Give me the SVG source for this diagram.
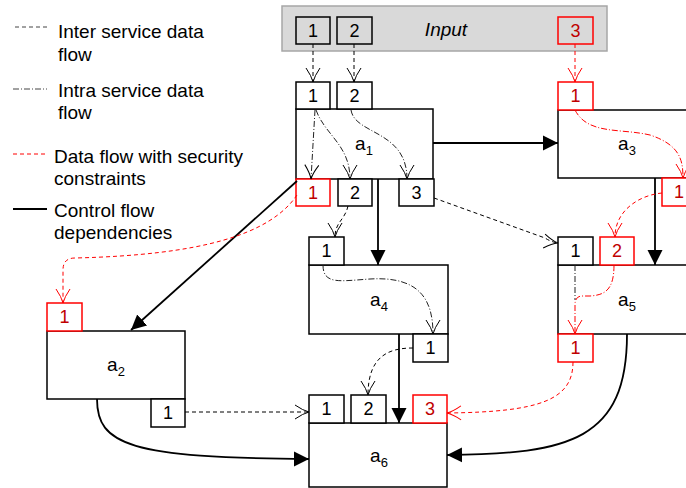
<svg xmlns="http://www.w3.org/2000/svg" width="686" height="488" viewBox="0 0 686 488">
<style>
text{font-family:"Liberation Sans",Arial,sans-serif;fill:#000}
.lg{font-size:19px}
.pt{font-size:18px;text-anchor:middle}
.lb{font-size:19px;text-anchor:middle}
.sub{font-size:13px}
.rt{fill:#c00000}
.box{fill:#fff;stroke:#000;stroke-width:1.5}
.rbox{fill:#fff;stroke:#ff0000;stroke-width:1.5}
.ctl{fill:none;stroke:#000;stroke-width:1.8}
.inter{fill:none;stroke:#000;stroke-width:1;stroke-dasharray:4 3}
.intra{fill:none;stroke:#222;stroke-width:1;stroke-dasharray:6 2 1 2}
.rinter{fill:none;stroke:#ff0000;stroke-width:1;stroke-dasharray:4 3}
.rintra{fill:none;stroke:#ff0000;stroke-width:1;stroke-dasharray:6 2 1 2}
</style>
<defs>
<marker id="ov" markerUnits="userSpaceOnUse" markerWidth="16" markerHeight="18" refX="15" refY="9" orient="auto"><path d="M1,2 Q9,7.5 15,9 Q9,10.5 1,16" fill="none" stroke="#000" stroke-width="1"/></marker>
<marker id="ovr" markerUnits="userSpaceOnUse" markerWidth="16" markerHeight="18" refX="15" refY="9" orient="auto"><path d="M1,2 Q9,7.5 15,9 Q9,10.5 1,16" fill="none" stroke="#ff0000" stroke-width="1"/></marker>
<marker id="tri" markerUnits="userSpaceOnUse" markerWidth="16" markerHeight="16" refX="15" refY="8" orient="auto"><path d="M0,0.5 L15,8 L0,15.5 Z" fill="#000"/></marker>
</defs>

<g id="legend">
<line x1="15" y1="27" x2="47" y2="27" stroke="#444" stroke-width="1" stroke-dasharray="4 3"/>
<text class="lg" x="58" y="38">Inter service data</text>
<text class="lg" x="58" y="61">flow</text>
<line x1="13" y1="89" x2="47" y2="89" stroke="#444" stroke-width="1" stroke-dasharray="6 2 1 2"/>
<text class="lg" x="58" y="97">Intra service data</text>
<text class="lg" x="58" y="119">flow</text>
<line x1="13" y1="154" x2="45" y2="154" stroke="#ff0000" stroke-width="1" stroke-dasharray="4 3"/>
<text class="lg" x="54" y="163">Data flow with security</text>
<text class="lg" x="54" y="185">constraints</text>
<line x1="13" y1="209" x2="47" y2="209" stroke="#000" stroke-width="2"/>
<text class="lg" x="54" y="217">Control flow</text>
<text class="lg" x="54" y="239">dependencies</text>
</g>

<g id="input">
<rect x="282" y="6" width="325" height="45" fill="#d9d9d9" stroke="#a6a6a6" stroke-width="1.5"/>
<rect x="296" y="17" width="34" height="27" fill="#d9d9d9" stroke="#000" stroke-width="1.5"/>
<text class="pt" x="313" y="37">1</text>
<rect x="337" y="17" width="35" height="27" fill="#d9d9d9" stroke="#000" stroke-width="1.5"/>
<text class="pt" x="354.5" y="37">2</text>
<rect x="558" y="17" width="35" height="27" fill="#d9d9d9" stroke="#ff0000" stroke-width="1.5"/>
<text class="pt rt" x="575.5" y="37">3</text>
<text x="446" y="36" font-size="19" font-style="italic" text-anchor="middle">Input</text>
</g>

<g id="a1">
<rect class="box" x="296" y="109" width="137" height="70"/>
<text class="lb" x="364" y="150">a<tspan class="sub" dy="5">1</tspan></text>
<rect class="box" x="296" y="82" width="34" height="27"/><text class="pt" x="313" y="102">1</text>
<rect class="box" x="337" y="82" width="35" height="27"/><text class="pt" x="354.5" y="102">2</text>
<rect class="rbox" x="296" y="179" width="34" height="27"/><text class="pt rt" x="313" y="199">1</text>
<rect class="box" x="338" y="179" width="34" height="27"/><text class="pt" x="355" y="199">2</text>
<rect class="box" x="399" y="179" width="35" height="27"/><text class="pt" x="416.5" y="199">3</text>
</g>

<g id="a3">
<rect class="box" x="558" y="110" width="140" height="68"/>
<text class="lb" x="627" y="150">a<tspan class="sub" dy="5">3</tspan></text>
<rect class="rbox" x="558" y="82" width="35" height="28"/><text class="pt rt" x="575.5" y="102">1</text>
<rect class="rbox" x="662" y="178" width="34" height="28"/><text class="pt rt" x="679" y="198">1</text>
</g>

<g id="a4">
<rect class="box" x="309" y="265" width="139" height="69"/>
<text class="lb" x="379" y="306">a<tspan class="sub" dy="5">4</tspan></text>
<rect class="box" x="309" y="237" width="35" height="28"/><text class="pt" x="326.5" y="257">1</text>
<rect class="box" x="413" y="334" width="35" height="28"/><text class="pt" x="430.5" y="354">1</text>
</g>

<g id="a5">
<rect class="box" x="558" y="265" width="140" height="69"/>
<text class="lb" x="627" y="306">a<tspan class="sub" dy="5">5</tspan></text>
<rect class="box" x="558" y="237" width="35" height="28"/><text class="pt" x="575.5" y="257">1</text>
<rect class="rbox" x="600" y="237" width="34" height="28"/><text class="pt rt" x="617" y="257">2</text>
<rect class="rbox" x="558" y="334" width="35" height="28"/><text class="pt rt" x="575.5" y="354">1</text>
</g>

<g id="a2">
<rect class="box" x="47" y="331" width="138" height="68"/>
<text class="lb" x="116" y="371">a<tspan class="sub" dy="5">2</tspan></text>
<rect class="rbox" x="47" y="303" width="35" height="28"/><text class="pt rt" x="64.5" y="323">1</text>
<rect class="box" x="151" y="399" width="34" height="28"/><text class="pt" x="168" y="419">1</text>
</g>

<g id="a6">
<rect class="box" x="309" y="423" width="138" height="64"/>
<text class="lb" x="379" y="462">a<tspan class="sub" dy="5">6</tspan></text>
<rect class="box" x="309" y="395" width="35" height="28"/><text class="pt" x="326.5" y="415">1</text>
<rect class="box" x="351" y="395" width="35" height="28"/><text class="pt" x="368.5" y="415">2</text>
<rect class="rbox" x="413" y="395" width="34" height="28"/><text class="pt rt" x="430" y="415">3</text>
</g>

<g id="connectors">
<path class="ctl" d="M433,143 L558,143" marker-end="url(#tri)"/>
<path class="ctl" d="M297,181 L131,330" marker-end="url(#tri)"/>
<path class="ctl" d="M378,179 L378,265" marker-end="url(#tri)"/>
<path class="ctl" d="M655,178 L655,265" marker-end="url(#tri)"/>
<path class="ctl" d="M399,334 L399,423" marker-end="url(#tri)"/>
<path class="ctl" d="M97,399 C97,445 130,458 309,459" marker-end="url(#tri)"/>
<path class="ctl" d="M627,334 C627,440 570,454 447,455" marker-end="url(#tri)"/>

<path class="inter" d="M313,44 L313,82" marker-end="url(#ov)"/>
<path class="inter" d="M354,44 L354,82" marker-end="url(#ov)"/>
<path class="rinter" d="M575,44 L575,82" marker-end="url(#ovr)"/>

<path class="intra" d="M315,110 L311,179" marker-end="url(#ov)"/>
<path class="intra" d="M316,110 C325,135 350,145 350,179" marker-end="url(#ov)"/>
<path class="intra" d="M351,110 C355,135 407,130 407,179" marker-end="url(#ov)"/>

<path class="rinter" d="M297,195 C270,235 200,255 75,258 Q63,258 63,270 L63,303" marker-end="url(#ovr)"/>
<path class="inter" d="M348,206 C345,220 335,222 335,237" marker-end="url(#ov)"/>
<path class="inter" d="M434,198 L545,238 Q551,242 558,243" marker-end="url(#ov)"/>

<path class="rintra" d="M575,110 C588,135 620,128 650,135 C680,145 683,160 683,178" marker-end="url(#ovr)"/>
<path class="rinter" d="M662,193 C640,195 615,210 615,237" marker-end="url(#ovr)"/>

<path class="intra" d="M323,265 C323,285 340,281 370,279 C420,276 433,300 433,334" marker-end="url(#ov)"/>

<path class="intra" d="M575,265 L575,300"/>
<path class="rintra" d="M614,265 C614,290 605,295 590,296 L582,296 Q575,296 575,305 L575,334" marker-end="url(#ovr)"/>

<path class="inter" d="M413,348 C390,348 368,355 368,395" marker-end="url(#ov)"/>
<path class="inter" d="M185,412 L309,412" marker-end="url(#ov)"/>
<path class="rinter" d="M573,362 C573,400 540,412 447,413" marker-end="url(#ovr)"/>
</g>
</svg>
